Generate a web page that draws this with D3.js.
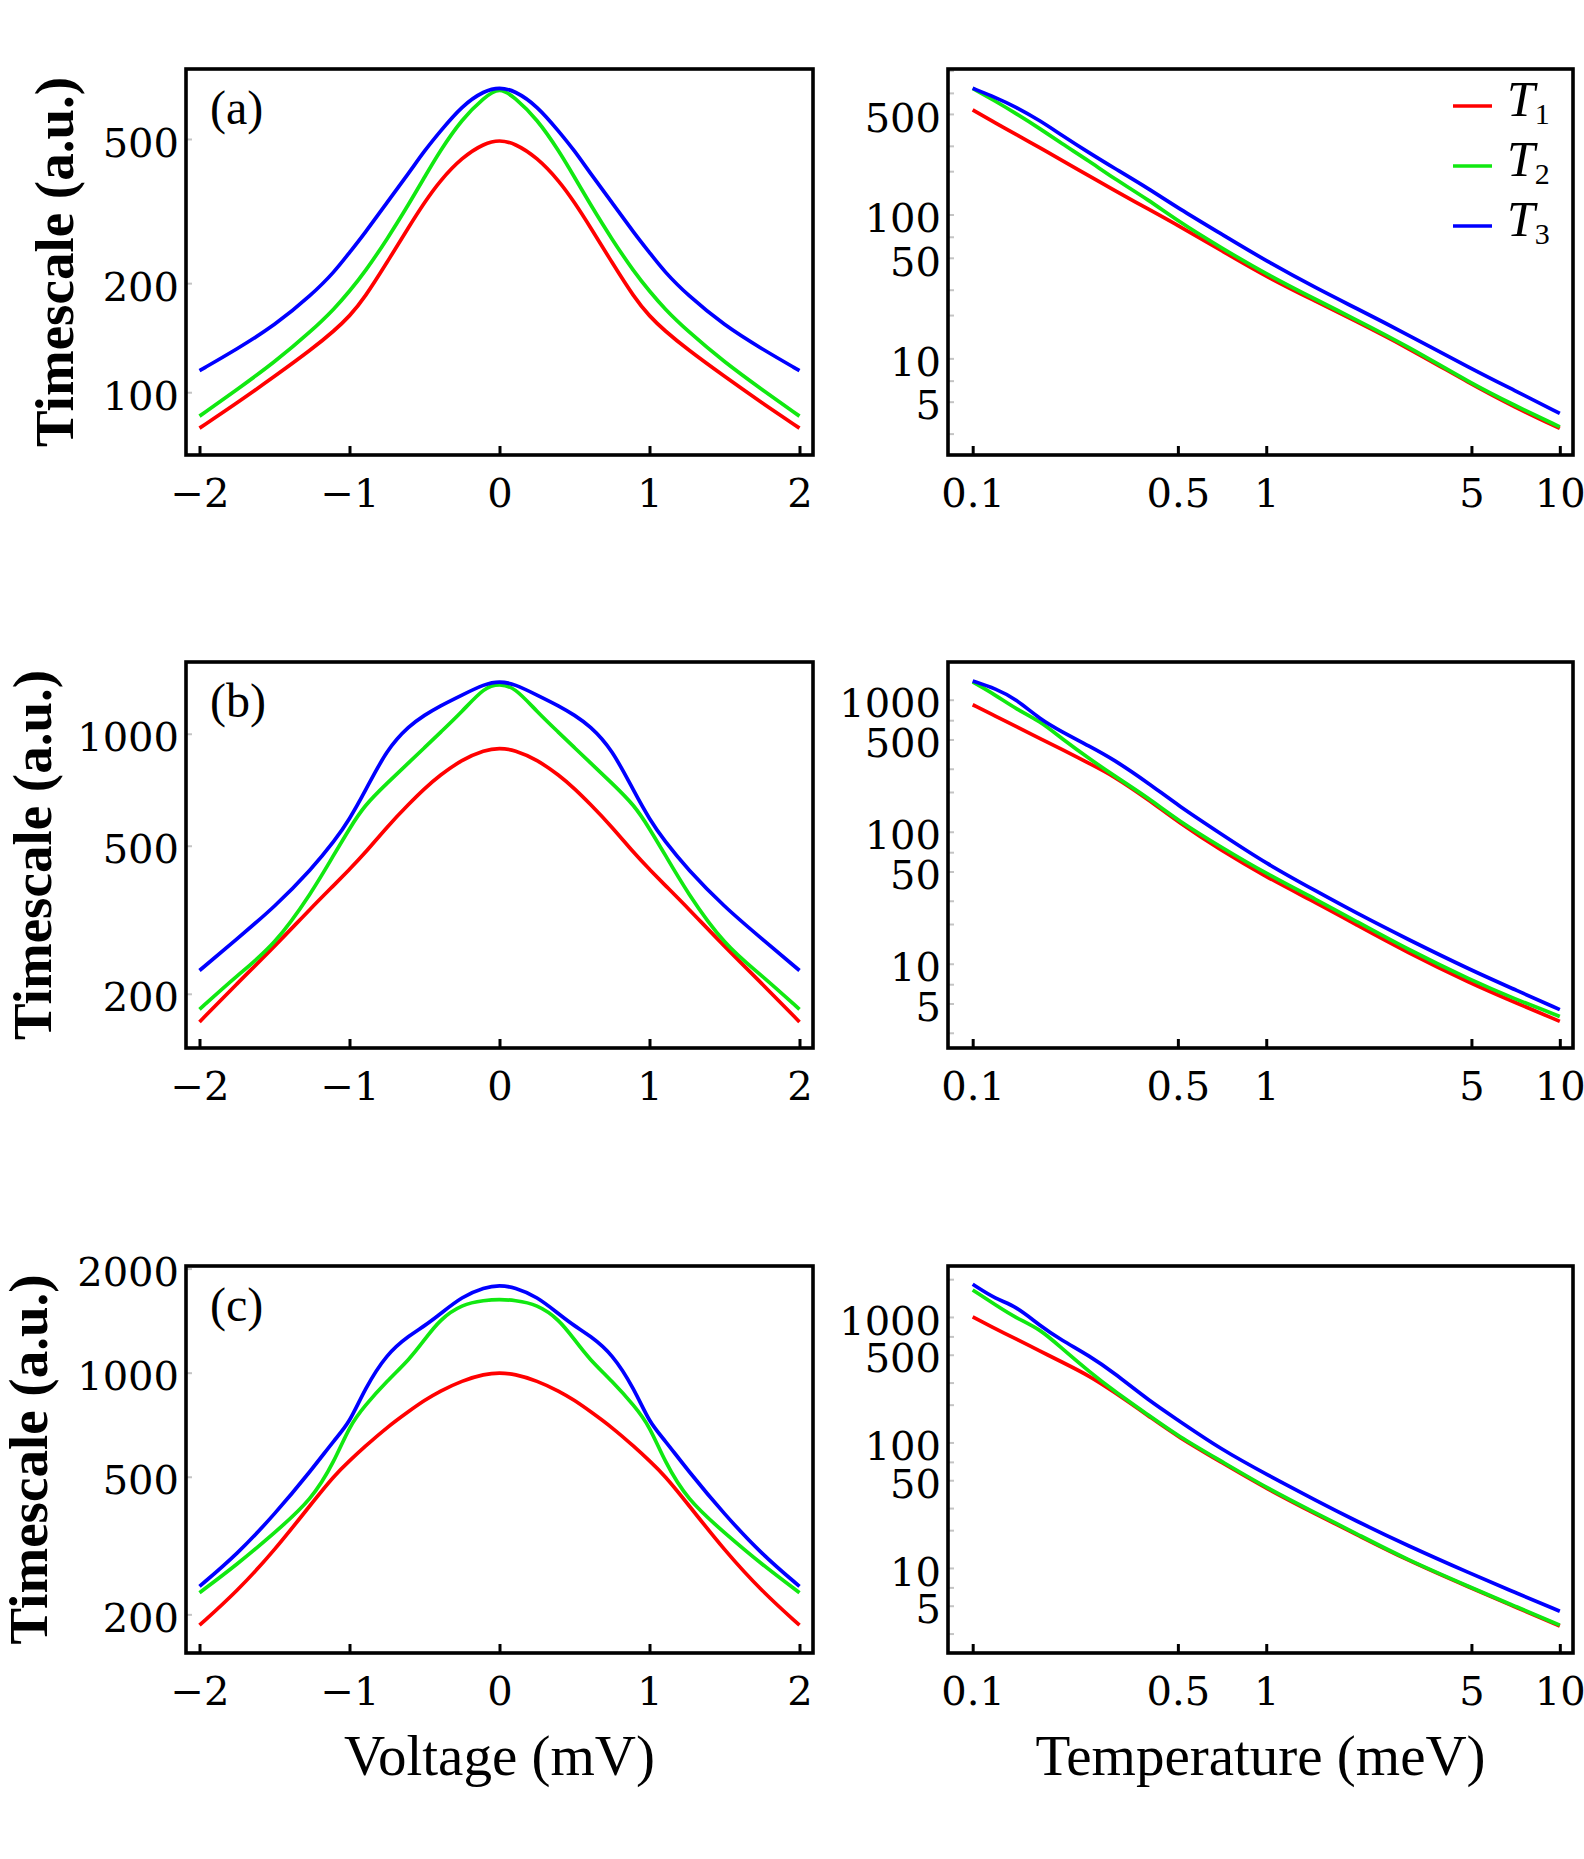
<!DOCTYPE html>
<html>
<head>
<meta charset="utf-8">
<script src="https://cdn.jsdelivr.net/npm/d3@7"></script>
<style>
  body { margin: 0; background: #fff; }
</style>
</head>
<body>
<div id="chart"></div>
<script>
const width = 1584;
const height = 1859;

// ---- data ----
const voltage = [-2, -1.75, -1.5, -1.25, -1.1, -1, -0.9, -0.75, -0.6, -0.5, -0.4, -0.25, -0.1, 0,
  0.1, 0.25, 0.4, 0.5, 0.6, 0.75, 0.9, 1, 1.1, 1.25, 1.5, 1.75, 2];
const temperature = [0.1, 0.12, 0.14, 0.17, 0.2, 0.25, 0.3, 0.4, 0.5, 0.7, 1, 1.5, 2, 3, 5, 7, 10];

// panel (a)
const aVoltRed = [79.6, 93.4, 110.5, 131.5, 148, 162, 182, 228, 288, 334, 382, 445, 487, 497,
  487, 445, 382, 334, 288, 228, 182, 162, 148, 131.5, 110.5, 93.4, 79.6];
const aVoltGreen = [85.9, 101.7, 121, 148, 170, 190, 214, 264, 333, 392, 461, 568, 652, 695,
  652, 568, 461, 392, 333, 264, 214, 190, 170, 148, 121, 101.7, 85.9];
const aVoltBlue = [114.7, 131.6, 152.7, 186, 215, 243, 274, 334, 405, 464, 522, 618, 680, 695,
  680, 618, 522, 464, 405, 334, 274, 243, 215, 186, 152.7, 131.6, 114.7];
const aTempRed = [534, 431, 362, 290, 239, 185, 149, 108, 84.1, 56.5, 36.9, 24.5, 18.3, 12.0, 6.6, 4.59, 3.26];
const aTempGreen = [753, 610, 506, 394, 313, 234, 180, 125, 90, 58.9, 38.5, 25.2, 18.8, 12.3, 6.67, 4.72, 3.34];
const aTempBlue = [753, 649, 560, 448, 358, 267, 213, 150, 111, 73.6, 47.5, 30.3, 22.6, 14.8, 8.47, 6.0, 4.14];

// panel (b)
const bVoltRed = [168, 213, 268, 342, 393, 432, 476, 562, 650, 712, 772, 852, 905, 916,
  905, 852, 772, 712, 650, 562, 476, 432, 393, 342, 268, 213, 168];
const bVoltGreen = [181.6, 224, 270, 375, 476, 556, 642, 736, 840, 917, 1003, 1146, 1335, 1362,
  1335, 1146, 1003, 917, 840, 736, 642, 556, 476, 375, 270, 224, 181.6];
const bVoltBlue = [231, 281, 342, 434, 515, 589, 695, 910, 1052, 1122, 1186, 1271, 1360, 1386,
  1360, 1271, 1186, 1122, 1052, 910, 695, 589, 515, 434, 342, 281, 231];
const bTempRed = [916, 749, 629, 507, 424, 328, 267, 173, 118.6, 72.3, 45.4, 28.5, 20.1, 12.3, 7.06, 5.13, 3.66];
const bTempGreen = [1363, 1080, 855, 686, 513, 357, 270, 178, 122, 76.6, 48.1, 30.2, 21.3, 13.0, 7.48, 5.43, 3.99];
const bTempBlue = [1386, 1211, 1016, 710, 577, 444, 357, 231, 158.5, 96.6, 57.3, 34.9, 24.6, 15.5, 8.91, 6.40, 4.49];

// panel (c)
const cVoltRed = [186, 233, 306, 420, 505, 556, 610, 695, 776, 832, 883, 948, 991, 1000,
  991, 948, 883, 832, 776, 695, 610, 556, 505, 420, 306, 233, 186];
const cVoltGreen = [231, 278.6, 344, 430, 555, 701, 801, 946, 1093, 1245, 1422, 1578, 1620, 1630,
  1620, 1578, 1422, 1245, 1093, 946, 801, 701, 555, 430, 344, 278.6, 231];
const cVoltBlue = [241, 298, 389, 525, 640, 716, 895, 1137, 1282, 1365, 1472, 1660, 1766, 1791,
  1766, 1660, 1472, 1365, 1282, 1137, 895, 716, 640, 525, 389, 298, 241];
const cTempRed = [1000, 802, 671, 533, 441, 339, 257, 161, 111, 70, 42.9, 26.3, 18.8, 11.6, 6.89, 4.92, 3.45];
const cTempGreen = [1641, 1240, 987, 798, 569, 365, 262, 163, 112.7, 71.3, 43.6, 26.8, 19.1, 11.7, 6.97, 4.98, 3.50];
const cTempBlue = [1821, 1384, 1224, 848, 657, 489, 365, 214, 151, 88.3, 55.8, 33.8, 24.0, 15.2, 8.96, 6.41, 4.52];

// axis domains and ticks
const voltDomain = [-2.09, 2.09];
const tempDomain = [0.0824, 11.09];
const voltTicks = [-2, -1, 0, 1, 2];
const tempTicks = [0.1, 0.5, 1, 5, 10];
const yDomainVolt = [[67.1, 780], [143, 1559], [154.6, 2035]];
const yDomainTemp = [[2.13, 1026], [2.30, 1931], [2.10, 2547]];
const yTicksVolt = [[100, 200, 500], [200, 500, 1000], [200, 500, 1000, 2000]];
const yTicksTemp = [[5, 10, 50, 100, 500], [5, 10, 50, 100, 500, 1000], [5, 10, 50, 100, 500, 1000]];
const yMinorTemp = [3, 5, 7, 10, 20, 30, 50, 70, 100, 200, 300, 500, 700, 1000, 2000];

const seriesNames = ["1", "2", "3"];
const colors = ["#ff0000", "#11e811", "#0000ff"];
const panelLabels = ["(a)", "(b)", "(c)"];

// ---- layout ----
const leftX = [186, 813];
const rightX = [948, 1573];
const rowsY = [[69, 455], [662, 1048], [1266, 1653]];
const yTitleX = [54, 32, 28];

const tickFont = "'DejaVu Serif', serif";
const textFont = "'Liberation Serif', 'Times New Roman', serif";

const svg = d3.select("#chart")
  .append("svg")
  .attr("width", width)
  .attr("height", height)
  .attr("viewBox", [0, 0, width, height]);

svg.append("rect").attr("width", width).attr("height", height).attr("fill", "#fff");

const voltSeries = [
  [aVoltRed, aVoltGreen, aVoltBlue],
  [bVoltRed, bVoltGreen, bVoltBlue],
  [cVoltRed, cVoltGreen, cVoltBlue]
];
const tempSeries = [
  [aTempRed, aTempGreen, aTempBlue],
  [bTempRed, bTempGreen, bTempBlue],
  [cTempRed, cTempGreen, cTempBlue]
];

const minusFmt = d => d < 0 ? "\u2212" + (-d) : String(d);

function drawPanel(row, kind) {
  const [x0, x1] = kind === "volt" ? leftX : rightX;
  const [y0, y1] = rowsY[row];

  const x = kind === "volt"
    ? d3.scaleLinear().domain(voltDomain).range([x0, x1])
    : d3.scaleLog().domain(tempDomain).range([x0, x1]);
  const y = d3.scaleLog()
    .domain(kind === "volt" ? yDomainVolt[row] : yDomainTemp[row])
    .range([y1, y0]);

  const xs = kind === "volt" ? voltage : temperature;
  const series = kind === "volt" ? voltSeries[row] : tempSeries[row];
  const yTicks = kind === "volt" ? yTicksVolt[row] : yTicksTemp[row];
  const yMinor = kind === "volt" ? yTicks : yMinorTemp.filter(v => v > y.domain()[0] && v < y.domain()[1]);

  const g = svg.append("g");

  // faint y ticks
  g.append("g")
    .attr("transform", `translate(${x0},0)`)
    .call(d3.axisLeft(y).tickValues(yMinor).tickSize(-6).tickFormat(""))
    .call(a => a.select(".domain").remove())
    .call(a => a.selectAll("line").attr("stroke", "#c4c4c4").attr("stroke-width", 2));

  // y tick labels
  g.append("g")
    .attr("transform", `translate(${x0},0)`)
    .call(d3.axisLeft(y).tickValues(yTicks).tickSize(0).tickPadding(7).tickFormat(d3.format("d")))
    .call(a => a.select(".domain").remove())
    .attr("font-family", tickFont)
    .attr("font-size", 40)
    .call(a => a.selectAll("text").attr("fill", "#000").attr("dy", "0.43em"));

  // curves
  const line = d3.line()
    .x((d, i) => x(xs[i]))
    .y(d => y(d))
    .curve(d3.curveBasis);

  series.forEach((s, i) => {
    g.append("path")
      .datum(s)
      .attr("fill", "none")
      .attr("stroke", colors[i])
      .attr("stroke-width", 3.7)
      .attr("d", line);
  });

  // x axis (ticks inside the frame)
  g.append("g")
    .attr("transform", `translate(0,${y1})`)
    .call(d3.axisBottom(x)
      .tickValues(kind === "volt" ? voltTicks : tempTicks)
      .tickSize(-9)
      .tickFormat(kind === "volt" ? minusFmt : d => String(d)))
    .call(a => a.select(".domain").remove())
    .attr("font-family", tickFont)
    .attr("font-size", 40)
    .call(a => a.selectAll("line").attr("stroke", "#000").attr("stroke-width", 3))
    .call(a => a.selectAll("text").attr("fill", "#000").attr("y", 37).attr("dy", "0.37em"));

  // frame
  g.append("rect")
    .attr("x", x0)
    .attr("y", y0)
    .attr("width", x1 - x0)
    .attr("height", y1 - y0)
    .attr("fill", "none")
    .attr("stroke", "#000")
    .attr("stroke-width", 3.6);

  if (kind === "volt") {
    g.append("text")
      .attr("x", x0 + 24)
      .attr("y", y0 + 55)
      .attr("font-family", textFont)
      .attr("font-size", 48)
      .text(panelLabels[row]);

    g.append("text")
      .attr("transform", `translate(${yTitleX[row]},${(y0 + y1) / 2}) rotate(-90)`)
      .attr("text-anchor", "middle")
      .attr("dominant-baseline", "central")
      .attr("font-family", textFont)
      .attr("font-weight", "bold")
      .attr("font-size", 55)
      .text("Timescale (a.u.)");
  }
}

[0, 1, 2].forEach(r => {
  drawPanel(r, "volt");
  drawPanel(r, "temp");
});

// legend in the top right panel
const legend = svg.append("g");
seriesNames.forEach((n, i) => {
  const ly = 106 + i * 60;
  legend.append("line")
    .attr("x1", 1453).attr("x2", 1492)
    .attr("y1", ly).attr("y2", ly)
    .attr("stroke", colors[i])
    .attr("stroke-width", 3.7);
  const t = legend.append("text")
    .attr("x", 1507)
    .attr("y", ly + 10)
    .attr("font-family", textFont)
    .attr("font-size", 50);
  t.append("tspan").attr("font-style", "italic").text("T");
  t.append("tspan").attr("font-size", 30).attr("dy", 8).text(n);
});

// x axis titles
svg.append("text")
  .attr("x", (leftX[0] + leftX[1]) / 2)
  .attr("y", 1775)
  .attr("text-anchor", "middle")
  .attr("font-family", textFont)
  .attr("font-size", 57)
  .text("Voltage (mV)");

svg.append("text")
  .attr("x", (rightX[0] + rightX[1]) / 2)
  .attr("y", 1775)
  .attr("text-anchor", "middle")
  .attr("font-family", textFont)
  .attr("font-size", 57)
  .text("Temperature (meV)");
</script>
</body>
</html>
